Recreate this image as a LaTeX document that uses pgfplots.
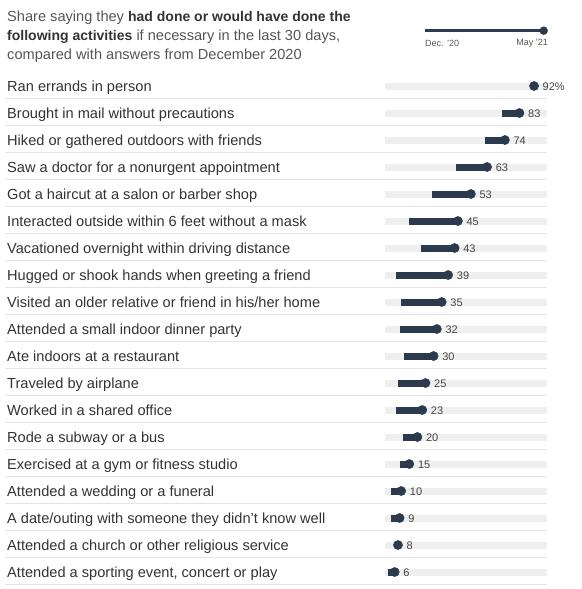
\documentclass[border=0pt]{standalone}
\usepackage{pgfplots}
\pgfplotsset{compat=1.18}
\usepackage{pgfplotstable}
\usepackage{fontspec}
\setmainfont{Liberation Sans}
\definecolor{navy}{HTML}{2B3A4C}
\definecolor{trk}{HTML}{EFEFEF}
\definecolor{sepc}{HTML}{E4E4E4}
\definecolor{lbl}{HTML}{333333}
\definecolor{hdr}{HTML}{555555}
\definecolor{val}{HTML}{444444}

\pgfplotstableread[col sep=semicolon]{
row;dec;may;label
1;91;92;Ran errands in person
2;72;83;Brought in mail without precautions
3;62;74;Hiked or gathered outdoors with friends
4;44;63;Saw a doctor for a nonurgent appointment
5;29;53;Got a haircut at a salon or barber shop
6;15;45;Interacted outside within 6 feet without a mask
7;22;43;Vacationed overnight within driving distance
8;7;39;Hugged or shook hands when greeting a friend
9;10;35;Visited an older relative or friend in his/her home
10;9;32;Attended a small indoor dinner party
11;12;30;Ate indoors at a restaurant
12;8;25;Traveled by airplane
13;7;23;Worked in a shared office
14;11;20;Rode a subway or a bus
15;9;15;Exercised at a gym or fitness studio
16;4;10;Attended a wedding or a funeral
17;4;9;A date/outing with someone they didn't know well
18;6;8;Attended a church or other religious service
19;2;6;Attended a sporting event, concert or play
}\datatable

\newcommand\hfont{\fontsize{14.6bp}{16bp}\selectfont}
\newcommand\hbold[1]{\textcolor{lbl}{\fontsize{14bp}{16bp}\selectfont\bfseries #1}}

\begin{document}
\begin{tikzpicture}
\begin{axis}[
  at={(0,0)}, anchor=south west,
  scale only axis, width=582bp, height=589bp,
  hide axis, clip=false,
  xmin=-237.654, xmax=121.605,
  ymin=-2.18519, ymax=19.6296,
  y dir=reverse,
  /pgf/number format/assume math mode=true,
]
% separators
\pgfplotsinvokeforeach{1,...,19}{
  \draw[sepc, line width=0.8bp] (axis cs:-234.57,#1.4444) -- (axis cs:100,#1.4444);
}
% tracks
\addplot[draw=none, mark=none,
  error bars/.cd, x dir=plus, x explicit, error mark=none,
  error bar style={line width=7bp, draw=trk}]
  table[x expr=0, y=row, x error expr=100] {\datatable};
% change bars
\addplot[draw=none, mark=none,
  error bars/.cd, x dir=plus, x explicit, error mark=none,
  error bar style={line width=7bp, draw=navy}]
  table[x=dec, y=row, x error expr=\thisrow{may}-\thisrow{dec}] {\datatable};
% dots
\addplot[only marks, mark=*, mark size=4.6bp, color=navy, mark options={draw=navy, fill=navy}]
  table[x=may, y=row] {\datatable};
% value labels
\addplot[draw=none, mark=none, point meta=explicit,
  skip coords between index={0}{1},
  nodes near coords={\pgfmathprintnumber{\pgfplotspointmeta}},
  nodes near coords style={anchor=west, inner sep=0pt, xshift=8.5bp, yshift=-0.5bp,
     font=\fontsize{11bp}{13bp}\selectfont, text=val}]
  table[x=may, y=row, meta=may] {\datatable};
\addplot[draw=none, mark=none, point meta=explicit,
  skip coords between index={1}{19},
  nodes near coords={\pgfmathprintnumber{\pgfplotspointmeta}\%},
  nodes near coords style={anchor=west, inner sep=0pt, xshift=8.5bp, yshift=-0.5bp,
     font=\fontsize{11bp}{13bp}\selectfont, text=val}]
  table[x=may, y=row, meta=may] {\datatable};
% row labels
\addplot[draw=none, mark=none, point meta=explicit symbolic,
  nodes near coords,
  nodes near coords style={anchor=base west, inner sep=0pt, yshift=-5bp,
     font=\fontsize{14.6bp}{16bp}\selectfont, text=lbl}]
  table[x expr=-233.33, y=row, meta=label] {\datatable};
% header
\node[anchor=base west, inner sep=0pt, text=hdr, font=\hfont]
  at (axis cs:-233.33,-1.3704) {Share saying they \hbold{had done or would have done the}};
\node[anchor=base west, inner sep=0pt, text=hdr, font=\hfont]
  at (axis cs:-233.33,-0.6667) {\hbold{following activities} if necessary in the last 30 days,};
\node[anchor=base west, inner sep=0pt, text=hdr, font=\hfont]
  at (axis cs:-233.33,0.0370) {compared with answers from December 2020};
% legend
\draw[navy, line width=3bp] (axis cs:24.69,-1.0481) -- (axis cs:97.96,-1.0481);
\fill[navy] (axis cs:97.96,-1.0481) circle[radius=4.2bp];
\node[anchor=west, inner sep=0pt, text=hdr, font=\fontsize{9bp}{11bp}\selectfont]
  at (axis cs:24.69,-0.5926) {Dec. '20};
\node[anchor=east, inner sep=0pt, text=hdr, font=\fontsize{9bp}{11bp}\selectfont]
  at (axis cs:100.6,-0.5926) {May '21};
\end{axis}
\path (0,0) rectangle (582bp,589bp);
\end{tikzpicture}
\end{document}
